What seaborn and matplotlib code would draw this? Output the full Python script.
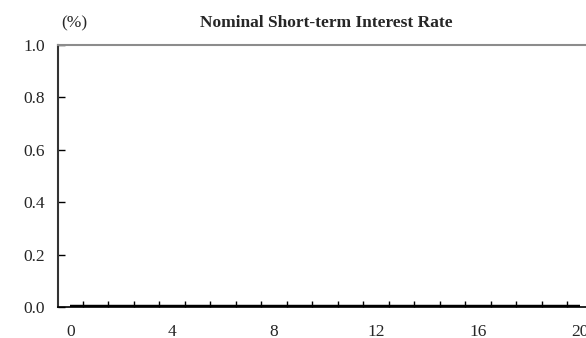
import matplotlib
matplotlib.use("Agg")
import matplotlib.pyplot as plt
import seaborn as sns
import pandas as pd

# Quarters after the shock and the simulated nominal short-term rate (%)
quarters = list(range(0, 21))
rate = [0.0, 0.0, 0.0, 0.0, 0.0, 0.0, 0.0, 0.0, 0.0, 0.0, 0.0,
        0.0, 0.0, 0.0, 0.0, 0.0, 0.0, 0.0, 0.0, 0.0, 0.0]
x_tick_values = [0, 4, 8, 12, 16, 20]
y_tick_values = [0.0, 0.2, 0.4, 0.6, 0.8, 1.0]

df = pd.DataFrame({"quarter": quarters, "rate": rate})

sns.set_style("white")
plt.rcParams["font.family"] = ["Liberation Serif", "DejaVu Serif"]

W, H = 586, 338
fig = plt.figure(figsize=(W / 100, H / 100), dpi=100)
left, right, top, bottom = 57.5, 592.75, 45.0, 307.0
ax = fig.add_axes([left / W, (H - bottom) / H, (right - left) / W, (bottom - top) / H])

sns.lineplot(data=df, x="quarter", y="rate", color="black", linewidth=3.2,
             ax=ax, legend=False, solid_capstyle="butt")

ax.set_xlim(-0.5, 20.5)
ax.set_ylim(0.0, 1.0)
ax.set_xlabel("")
ax.set_ylabel("")

# Category labels at centres, tick marks on the boundaries between quarters
ax.set_xticks(x_tick_values)
ax.set_xticklabels([str(v) for v in x_tick_values], fontsize=12.5)
ax.set_xticks([q + 0.5 for q in quarters], minor=True)
ax.tick_params(axis="x", which="major", bottom=True, length=0, pad=12)
ax.tick_params(axis="x", which="minor", bottom=True, direction="in", length=4,
               width=1.0, color="black")

ax.set_yticks(y_tick_values)
ax.set_yticklabels([f"{v:.1f}" for v in y_tick_values], fontsize=12.5)
ax.tick_params(axis="y", which="major", left=True, direction="in", length=5,
               width=1.0, color="black", pad=9)

for side in ["left", "bottom", "top"]:
    ax.spines[side].set_visible(True)
ax.spines["left"].set_color("#333333")
ax.spines["left"].set_linewidth(1.5)
ax.spines["bottom"].set_color("black")
ax.spines["bottom"].set_linewidth(1.2)
ax.spines["top"].set_color("#8c8c8c")
ax.spines["top"].set_linewidth(1.5)
ax.spines["right"].set_visible(False)

fig.text(74 / W, 1 - 23 / H, "(%)", ha="center", va="center", fontsize=12.5)
fig.text(326 / W, 1 - 23 / H, "Nominal Short-term Interest Rate", ha="center",
         va="center", fontsize=12.5, fontweight="bold")

fig.savefig("out.png", dpi=100)
